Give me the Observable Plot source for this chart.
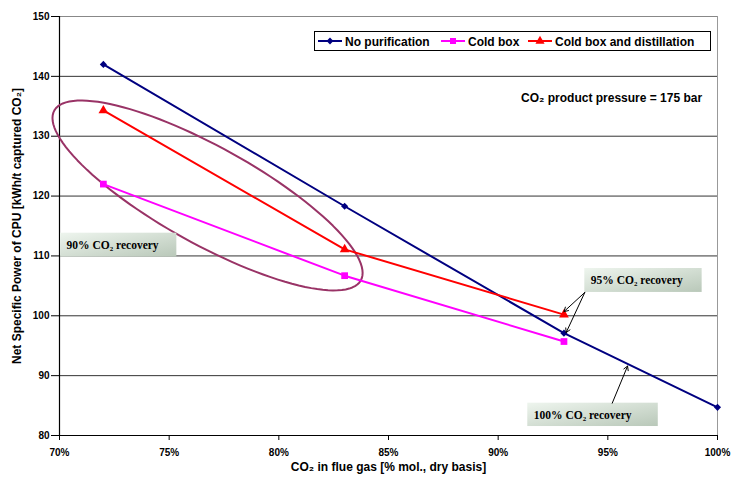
<!DOCTYPE html>
<html>
<head>
<meta charset="utf-8">
<script src="https://cdn.jsdelivr.net/npm/d3@7"></script>
<script src="https://cdn.jsdelivr.net/npm/@observablehq/plot@0.6"></script>
<style>
  html, body { margin: 0; padding: 0; background: #fff; }
  #chart { width: 732px; height: 483px; }
</style>
</head>
<body>
<div id="chart"></div>
<script>
// ---- data ----
const xValues = [72, 83, 93, 100];                 // CO2 in flue gas [%]
const noPurification = [142.0, 118.3, 97.1, 84.7];
const coldBox = [122.0, 106.7, 95.7];
const coldBoxDistillation = [134.3, 111.1, 100.2];
const seriesNames = ["No purification", "Cold box", "Cold box and distillation"];
const seriesColors = ["#000080", "#ff00ff", "#ff0000"];
const seriesSymbols = ["diamond2", "square", "triangle"];
const xTicks = [70, 75, 80, 85, 90, 95, 100];
const yTicks = [80, 90, 100, 110, 120, 130, 140, 150];

// annotation boxes (data units)
const boxes = [
  {label: "90% CO₂ recovery", x1: 70.05, x2: 75.35, y1: 113.8, y2: 109.8},
  {label: "95% CO₂ recovery", x1: 93.95, x2: 99.3, y1: 107.9, y2: 103.9},
  {label: "100% CO₂ recovery", x1: 91.35, x2: 97.3, y1: 85.4, y2: 81.5}
];
const arrows = [
  {x1: 93.95, y1: 103.9, x2: 93.0, y2: 100.7},
  {x1: 93.95, y1: 103.9, x2: 93.1, y2: 97.2},
  {x1: 95.2, y1: 85.4, x2: 95.9, y2: 91.6}
];
// ellipse around 90% recovery points (center + conjugate half-axes, data units)
const ellipse = {cx: 76.75, cy: 120.1, ux: 7.07, uy: -12.94, vx: 0, vy: 9.18};

const rows = [];
[noPurification, coldBox, coldBoxDistillation].forEach((vals, i) => {
  vals.forEach((v, j) => rows.push({series: seriesNames[i], x: xValues[j], y: v}));
});
const ellipsePts = d3.range(0, 121).map(k => {
  const t = (k / 120) * 2 * Math.PI;
  return {x: ellipse.cx + ellipse.ux * Math.cos(t) + ellipse.vx * Math.sin(t),
          y: ellipse.cy + ellipse.uy * Math.cos(t) + ellipse.vy * Math.sin(t)};
});

const sans = "'Liberation Sans', Arial, sans-serif";
const serif = "'Liberation Serif', 'Times New Roman', serif";

const plot = Plot.plot({
  width: 732,
  height: 483,
  marginLeft: 59,
  marginRight: 15,
  marginTop: 16,
  marginBottom: 48,
  style: {fontFamily: sans, background: "#fff", overflow: "visible"},
  x: {domain: [70, 100], ticks: xTicks},
  y: {domain: [80, 150], ticks: yTicks},
  color: {domain: seriesNames, range: seriesColors},
  symbol: {domain: seriesNames, range: seriesSymbols},
  marks: [
    Plot.gridY(yTicks.filter(d => d > 80 && d < 150), {stroke: "#333", strokeOpacity: 1, strokeWidth: 1}),
    Plot.ruleY([150], {stroke: "#888", strokeWidth: 1}),
    Plot.ruleX([100], {stroke: "#999", strokeWidth: 1}),
    Plot.axisY({ticks: yTicks, tickSize: 8, tickPadding: 2, fontSize: 10, fontWeight: "bold", label: null, fill: "#000"}),
    Plot.axisX({ticks: xTicks, tickSize: 5, tickPadding: 8, fontSize: 10, fontWeight: "bold", label: null,
      tickFormat: d => d + "%", fill: "#000"}),
    Plot.ruleY([80], {stroke: "#000", strokeWidth: 1.2}),
    Plot.ruleX([70], {stroke: "#000", strokeWidth: 1.2}),
    // ellipse
    Plot.line(ellipsePts, {x: "x", y: "y", stroke: "#993366", strokeWidth: 2, curve: "linear"}),
    // series
    Plot.line(rows, {x: "x", y: "y", z: "series", stroke: "series", strokeWidth: 2}),
    Plot.dot(rows.filter(d => d.series === seriesNames[0]), {x: "x", y: "y", symbol: "series", fill: "series", r: 3.2, stroke: "none"}),
    Plot.dot(rows.filter(d => d.series === seriesNames[1]), {x: "x", y: "y", symbol: "series", fill: "series", r: 3.8, stroke: "none"}),
    Plot.dot(rows.filter(d => d.series === seriesNames[2]), {x: "x", y: "y", symbol: "series", fill: "series", r: 3.6, stroke: "none"}),
    // annotation boxes
    Plot.rect(boxes, {x1: "x1", x2: "x2", y1: "y1", y2: "y2", fill: "url(#boxGrad)"}),
    Plot.text(boxes, {x: "x1", y: d => (d.y1 + d.y2) / 2, text: "label", textAnchor: "start", dx: 6,
      fontFamily: serif, fontWeight: "bold", fontSize: 11.5, fill: "#000"}),
    Plot.arrow(arrows, {x1: "x1", y1: "y1", x2: "x2", y2: "y2", stroke: "#000", strokeWidth: 1, headLength: 7}),
    // pressure note
    Plot.text(["CO₂ product pressure = 175 bar"], {x: 99.3, y: 136.3, text: d => d, textAnchor: "end",
      fontWeight: "bold", fontSize: 12, fill: "#000"}),
    // axis titles
    Plot.text(["Net Specific Power of CPU [kWh/t captured CO₂]"], {frameAnchor: "left", dx: -42, text: d => d,
      textAnchor: "middle", rotate: -90, fontWeight: "bold", fontSize: 12, fill: "#000"}),
    Plot.text(["CO₂ in flue gas [% mol., dry basis]"], {frameAnchor: "bottom", dy: 35, text: d => d,
      textAnchor: "middle", fontWeight: "bold", fontSize: 12, fill: "#000"})
  ]
});

// gradient definition for annotation boxes
const svg = d3.select(plot);
const defs = svg.insert("defs", ":first-child");
const grad = defs.append("linearGradient").attr("id", "boxGrad")
  .attr("x1", "0").attr("y1", "0").attr("x2", "1").attr("y2", "1");
grad.append("stop").attr("offset", "0%").attr("stop-color", "#eef5ee");
grad.append("stop").attr("offset", "100%").attr("stop-color", "#b9c8b9");

// legend (inside plot area, top right)
const lg = svg.append("g").attr("font-family", sans).attr("font-size", 12).attr("font-weight", "bold")
  .attr("text-anchor", "start");
lg.append("rect").attr("x", 314.5).attr("y", 31.5).attr("width", 396).attr("height", 19)
  .attr("fill", "#fff").attr("stroke", "#000").attr("stroke-width", 1);
const itemX = [318, 441, 528];
seriesNames.forEach((name, i) => {
  const g = lg.append("g").attr("transform", `translate(${itemX[i]},41)`);
  g.append("line").attr("x1", 0).attr("x2", 24).attr("y1", 0).attr("y2", 0)
    .attr("stroke", seriesColors[i]).attr("stroke-width", 2);
  const sym = seriesSymbols[i] === "diamond2" ? d3.symbolDiamond2 : seriesSymbols[i] === "square" ? d3.symbolSquare : d3.symbolTriangle;
  const size = seriesSymbols[i] === "diamond2" ? 30 : seriesSymbols[i] === "square" ? 36 : 36;
  g.append("path").attr("d", d3.symbol(sym, size)()).attr("transform", "translate(12,0)").attr("fill", seriesColors[i]);
  g.append("text").attr("x", 27).attr("y", 4.5).attr("fill", "#000").text(name);
});

document.getElementById("chart").appendChild(plot);
</script>
</body>
</html>
